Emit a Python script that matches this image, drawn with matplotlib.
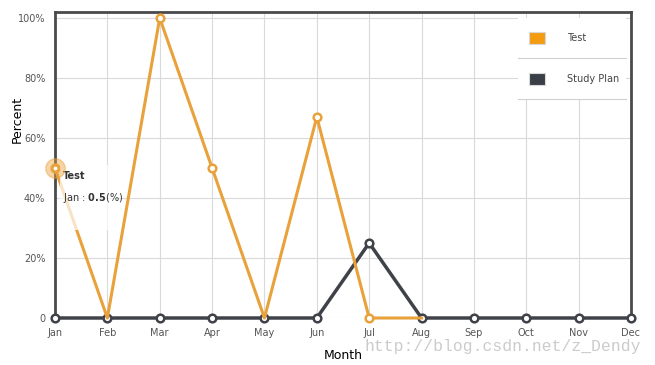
import matplotlib
matplotlib.use("Agg")
import matplotlib.pyplot as plt
from matplotlib.patches import Rectangle
from matplotlib.lines import Line2D

months = ["Jan", "Feb", "Mar", "Apr", "May", "Jun",
          "Jul", "Aug", "Sep", "Oct", "Nov", "Dec"]
test = [50, 0, 100, 50, 0, 67, 0, 0]
study_plan = [0, 0, 0, 0, 0, 0, 25, 0, 0, 0, 0, 0]
yticks = [0, 20, 40, 60, 80, 100]
ytick_labels = ["0", "20%", "40%", "60%", "80%", "100%"]

orange = "#E9A23B"
dark = "#3F4248"
W, H = 655, 365


def fx(x):
    return x / W


def fy(y):
    return 1 - y / H


fig = plt.figure(figsize=(6.55, 3.65), dpi=100)
ax = fig.add_axes([fx(55), fy(318), fx(631) - fx(55), fy(12) - fy(318)])

x_sp = list(range(len(study_plan)))
x_t = list(range(len(test)))

ax.plot(x_sp, study_plan, color=dark, lw=2.5, marker="o", ms=5.5,
        mfc="white", mec=dark, mew=1.8, clip_on=False, zorder=3)
ax.plot(x_t, test, color=orange, lw=2.2, marker="o", ms=5.5,
        mfc="white", mec=orange, mew=1.8, clip_on=False, zorder=4,
        markevery=[0, 2, 3, 5, 6])

ax.set_xlim(0, 11)
ax.set_ylim(0, 102)
ax.set_xticks(range(12))
ax.set_xticklabels(months)
ax.set_yticks(yticks)
ax.set_yticklabels(ytick_labels)
ax.tick_params(length=0, labelsize=7, colors="#555555", pad=7)
ax.grid(True, color="#dadada", lw=0.8)
ax.set_axisbelow(True)

for s in ["left", "right", "top"]:
    ax.spines[s].set_color("#4a4a4a")
    ax.spines[s].set_linewidth(2)
ax.spines["bottom"].set_visible(False)

ax.set_xlabel("Month", fontsize=9, labelpad=8)
fig.text(fx(17), fy(119), "Percent", fontsize=9, rotation=90,
         ha="center", va="center")

# tooltip
fig.patches.append(Rectangle((fx(60), fy(230)), fx(56), fy(165) - fy(230),
                             transform=fig.transFigure, facecolor="white",
                             alpha=0.7, edgecolor="none", zorder=7))
fig.text(fx(63), fy(176), "Test", fontsize=7, fontweight="bold",
         color="#333333", va="center", zorder=8)
fig.text(fx(63), fy(198), r"Jan : $\bf{0.5}$(%)", fontsize=7,
         color="#333333", va="center", zorder=8)

# hover halo on Jan point
halo_ax = fig.add_axes(ax.get_position(), sharex=ax, sharey=ax, zorder=9)
halo_ax.set_axis_off()
halo_ax.plot([0], [50], "o", ms=14, color=orange, alpha=0.45, clip_on=False)
halo_ax.plot([0], [50], "o", ms=4, mfc="white", mec=orange, mew=1.2, clip_on=False)

# legend
fig.patches.append(Rectangle((fx(518), fy(99)), fx(108), fy(18) - fy(99),
                             transform=fig.transFigure, facecolor="white",
                             edgecolor="none", zorder=5))
for yy in [58, 99]:
    fig.lines.append(Line2D([fx(518), fx(626)], [fy(yy), fy(yy)],
                            transform=fig.transFigure, color="#d0d0d0",
                            lw=0.8, zorder=6))
for yc, col, name in [(38, "#F39C12", "Test"), (79, "#3A3E46", "Study Plan")]:
    fig.patches.append(Rectangle((fx(529), fy(yc + 6)), fx(16), fy(yc - 6) - fy(yc + 6),
                                 transform=fig.transFigure, facecolor=col,
                                 edgecolor="#d8d8d8", lw=0.8, zorder=6))
    fig.text(fx(567), fy(yc), name, fontsize=7, color="#444444",
             va="center", zorder=7)

# watermark
fig.text(fx(365), fy(346), "http://blog.csdn.net/z_Dendy", fontsize=11.8,
         family="Liberation Mono", color="#c6c6c6", va="center", alpha=0.9)

fig.savefig("out.png", dpi=100)
